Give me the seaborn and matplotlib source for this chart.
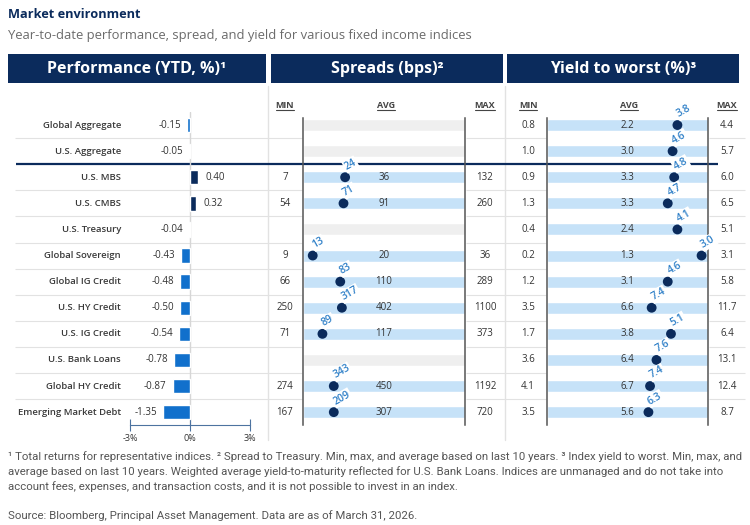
import numpy as np
import pandas as pd
import matplotlib
matplotlib.use("Agg")
import matplotlib.pyplot as plt
from matplotlib.patches import Rectangle
import seaborn as sns

sns.set_style("white")
plt.rcParams['font.family'] = ['Open Sans', 'DejaVu Sans']

# ---- data ----
names = ['Global Aggregate', 'U.S. Aggregate', 'U.S. MBS', 'U.S. CMBS', 'U.S. Treasury',
         'Global Sovereign', 'Global IG Credit', 'U.S. HY Credit', 'U.S. IG Credit',
         'U.S. Bank Loans', 'Global HY Credit', 'Emerging Market Debt']
perf_ytd = [-0.15, -0.05, 0.40, 0.32, -0.04, -0.43, -0.48, -0.50, -0.54, -0.78, -0.87, -1.35]

nan = np.nan
spread_min = [nan, nan, 7, 54, nan, 9, 66, 250, 71, nan, 274, 167]
spread_avg = [nan, nan, 36, 91, nan, 20, 110, 402, 117, nan, 450, 307]
spread_max = [nan, nan, 132, 260, nan, 36, 289, 1100, 373, nan, 1192, 720]
spread_now = [nan, nan, 24, 71, nan, 13, 83, 317, 89, nan, 343, 209]
# position of current value within the 10y range (percentile, estimated)
spread_pct = [nan, nan, 26, 25, nan, 6, 23, 24, 12, nan, 19, 19]

ytw_min = [0.8, 1.0, 0.9, 1.3, 0.4, 0.2, 1.2, 3.5, 1.7, 3.6, 4.1, 3.5]
ytw_avg = [2.2, 3.0, 3.3, 3.3, 2.4, 1.3, 3.1, 6.6, 3.8, 6.4, 6.7, 5.6]
ytw_max = [4.4, 5.7, 6.0, 6.5, 5.1, 3.1, 5.8, 11.7, 6.4, 13.1, 12.4, 8.7]
ytw_now = [3.8, 4.6, 4.8, 4.7, 4.1, 3.0, 4.6, 7.4, 5.1, 7.6, 7.4, 6.3]
ytw_pct = [81, 78, 79, 75, 81, 96, 75, 65, 77, 68, 64, 63]

footnotes = [
    "\u00b9 Total returns for representative indices. \u00b2 Spread to Treasury. Min, max, and average based on last 10 years. \u00b3 Index yield to worst. Min, max, and",
    "average based on last 10 years. Weighted average yield-to-maturity reflected for U.S. Bank Loans. Indices are unmanaged and do not take into",
    "account fees, expenses, and transaction costs, and it is not possible to invest in an index.",
]
source = "Source: Bloomberg, Principal Asset Management. Data are as of March 31, 2026."

# ---- colours ----
NAVY = '#0b2b5c'
BLUE = '#1170cc'
LBLUE = '#2f80c8'
BAND = '#c6e2f8'
EMPTY = '#efefef'
TXT = '#333333'
GRID = '#e2e2e2'

df = pd.DataFrame({'name': names, 'perf': perf_ytd,
                   's_min': spread_min, 's_avg': spread_avg, 's_max': spread_max,
                   's_now': spread_now, 's_pct': spread_pct,
                   'y_min': ytw_min, 'y_avg': ytw_avg, 'y_max': ytw_max,
                   'y_now': ytw_now, 'y_pct': ytw_pct})
df['row'] = np.arange(len(df))
df['full'] = 100
n = len(df)

W, H = 750, 525
TOP, ROW_H = 112, 26.1
BOT = TOP + ROW_H * n

fig = plt.figure(figsize=(7.5, 5.25), dpi=100)


def box(x0, x1):
    return [x0 / W, 1 - BOT / H, (x1 - x0) / W, (BOT - TOP) / H]


canvas = fig.add_axes([0, 0, 1, 1])
canvas.set_xlim(0, W)
canvas.set_ylim(H, 0)
canvas.axis('off')

rows = fig.add_axes(box(0, W))
rows.set_xlim(0, W)
rows.set_ylim(n - 0.5, -0.5)
rows.axis('off')

# titles
canvas.text(8, 15, "Market environment", fontsize=9.2, fontweight='bold', color=NAVY, va='center')
canvas.text(8, 36, "Year-to-date performance, spread, and yield for various fixed income indices",
            fontsize=9.4, color='#6b6b6b', va='center')

# panel headers
headers = [(8, 266, "Performance (YTD, %)\u00b9"), (271, 503, "Spreads (bps)\u00b2"),
           (507, 739, "Yield to worst (%)\u00b3")]
for x0, x1, label in headers:
    canvas.add_patch(Rectangle((x0, 54), x1 - x0, 29, color=NAVY, lw=0))
    canvas.text((x0 + x1) / 2, 69, label, color='white', fontsize=11.5, fontweight='bold',
                ha='center', va='center')

# panel dividers
for x in [268, 505]:
    canvas.plot([x, x], [86, 440], color=GRID, lw=1)

# row separators
for b in np.arange(0.5, n - 1):
    if b == 1.5:
        continue
    for x0, x1 in [(15, 302), (466, 546), (709, 745)]:
        rows.hlines(b, x0, x1, color=GRID, lw=0.8)
rows.hlines(1.5, 16, 718, color=NAVY, lw=1.6)

for i, name in enumerate(names):
    rows.text(121, i, name, ha='right', va='center', fontsize=6.8, fontweight='semibold', color='#3a3a3a')

# ---- performance ----
perf_ax = fig.add_axes(box(130, 250))
perf_ax.set_facecolor('none')
bar_colors = {nm: (NAVY if v > 0 else BLUE) for nm, v in zip(names, perf_ytd)}
sns.barplot(data=df, x='perf', y='name', hue='name', palette=bar_colors, width=0.55,
            saturation=1, legend=False, orient='h', ax=perf_ax)
perf_ax.axvline(0, color='#d6d6d6', lw=1, zorder=0)
perf_ax.set_xlim(-3, 3)
perf_ax.set_ylim(n - 0.5, -0.5)
for s in ['left', 'top', 'right']:
    perf_ax.spines[s].set_visible(False)
perf_ax.spines['bottom'].set_color('#4d73a0')
perf_ax.set_xticks([-3, 0, 3])
perf_ax.set_xticklabels(['-3%', '0%', '3%'])
perf_ax.tick_params(axis='x', direction='inout', length=8, color='#4d73a0', labelsize=6.5,
                    labelcolor=TXT, pad=2, bottom=True)
perf_ax.set_yticks([])
perf_ax.set_xlabel('')
perf_ax.set_ylabel('')
for _, r in df.iterrows():
    if r.perf < 0:
        perf_ax.annotate(f"{r.perf:.2f}", (r.perf, r.row), xytext=(-6, 0), textcoords='offset pixels',
                         ha='right', va='center', fontsize=7, color=TXT)
    else:
        perf_ax.annotate(f"{r.perf:.2f}", (r.perf, r.row), xytext=(7, 0), textcoords='offset pixels',
                         ha='left', va='center', fontsize=7, color=TXT)


# ---- range panels ----
def range_panel(x0, x1, col, fmt, min_x, max_x):
    ax = fig.add_axes(box(x0, x1))
    ax.set_facecolor('none')
    has = df[col + '_pct'].notna()
    band_colors = {nm: (BAND if h else EMPTY) for nm, h in zip(names, has)}
    sns.barplot(data=df, x='full', y='name', hue='name', palette=band_colors, width=0.46,
                saturation=1, legend=False, orient='h', ax=ax)
    pts = df[has]
    sns.scatterplot(data=pts, x=col + '_pct', y='row', color=NAVY, s=50, edgecolor='none',
                    ax=ax, zorder=4)
    ax.set_xlim(0, 100)
    ax.set_ylim(n - 0.5, -0.5)
    ax.set_xticks([])
    ax.set_yticks([])
    ax.set_xlabel('')
    ax.set_ylabel('')
    for s in ['top', 'bottom']:
        ax.spines[s].set_visible(False)
    for s in ['left', 'right']:
        ax.spines[s].set_color('#555555')
        ax.spines[s].set_linewidth(1.1)
        ax.spines[s].set_bounds(n - 0.5, -0.27)
    for _, r in pts.iterrows():
        ax.text(50, r.row, fmt.format(r[col + '_avg']), ha='center', va='center', fontsize=7, color=TXT)
        ax.annotate(fmt.format(r[col + '_now']), (r[col + '_pct'], r.row), xytext=(3, 5),
                    textcoords='offset pixels', rotation=30, rotation_mode='anchor',
                    ha='left', va='bottom', fontsize=7.5, fontweight='semibold', color=LBLUE,
                    bbox=dict(boxstyle='square,pad=0.1', fc='white', ec='none'), zorder=5)
        rows.text(min_x, r.row, fmt.format(r[col + '_min']), ha='center', va='center', fontsize=7, color=TXT)
        rows.text(max_x, r.row, fmt.format(r[col + '_max']), ha='center', va='center', fontsize=7, color=TXT)
    return ax


range_panel(303, 465, 's', "{:.0f}", 285, 485)
range_panel(547, 708, 'y', "{:.1f}", 528, 727)

# column heads (underlined)
heads = []
for x, lab in [(285, 'MIN'), (386, 'AVG'), (485, 'MAX'), (528, 'MIN'), (629, 'AVG'), (727, 'MAX')]:
    heads.append(canvas.text(x, 105, lab, ha='center', va='center', fontsize=6.5,
                             fontweight='bold', color='#444444'))

# footnotes
for k, line in enumerate(footnotes):
    canvas.text(8, 457 + 15 * k, line, fontsize=8.2, color='#555555', va='center',
                family=['Roboto', 'DejaVu Sans'])
canvas.text(8, 516, source, fontsize=8.2, color='#555555', va='center', family=['Roboto', 'DejaVu Sans'])

fig.canvas.draw()
for t in heads:
    bb = t.get_window_extent()
    canvas.plot([bb.x0, bb.x1], [H - bb.y0 + 0.5, H - bb.y0 + 0.5], color='#444444', lw=0.8)

fig.savefig('out.png', dpi=100)
